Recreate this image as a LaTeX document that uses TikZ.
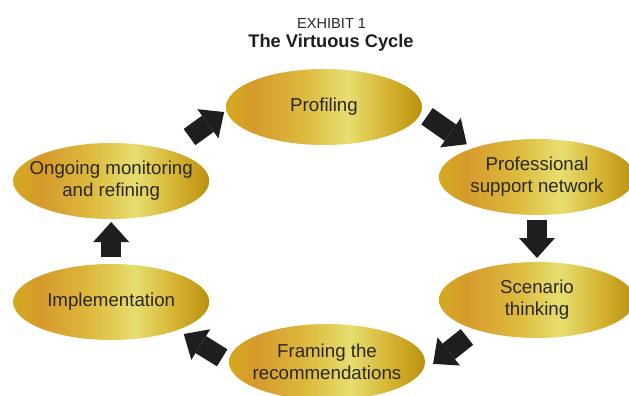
\documentclass[tikz,border=0pt]{standalone}
\usepackage{fontspec}
\setmainfont{Liberation Sans}
\usepackage{tikz}
\usetikzlibrary{shapes.geometric,arrows.meta}
\usepackage{xcolor}
\definecolor{GoldA}{RGB}{212,170,32}
\definecolor{GoldB}{RGB}{214,154,44}
\definecolor{GoldC}{RGB}{222,186,62}
\definecolor{GoldD}{RGB}{230,222,112}
\definecolor{GoldE}{RGB}{214,180,50}
\definecolor{GoldF}{RGB}{186,145,14}
\definecolor{Ink}{RGB}{43,40,36}
\definecolor{ArrowInk}{RGB}{30,30,30}
\pgfdeclarehorizontalshading{goldbar}{100bp}{color(0bp)=(GoldA); color(25bp)=(GoldA);
  color(32bp)=(GoldB); color(45bp)=(GoldC); color(56bp)=(GoldD); color(66bp)=(GoldE);
  color(75bp)=(GoldF); color(100bp)=(GoldF)}

\begin{document}
\begin{tikzpicture}[
  stage/.style={ellipse,shade,shading=goldbar,minimum width=4.9cm,minimum height=1.9cm,
                inner sep=0pt,outer sep=0pt,label={[lbl]center:#1}},
  lbl/.style={align=center,text=Ink,font=\fontsize{13.3}{15.6}\selectfont},
  blk/.style={draw=ArrowInk,line width=0.5cm,
              -{Triangle[width=0.9cm,length=0.5cm,line width=0pt]}},
]
\useasboundingbox (0,0) rectangle (15.725,-9.9);
\clip (0,0) rectangle (15.725,-9.9);
\node[anchor=base,text=Ink,font=\fontsize{10.4}{12}\selectfont] (exhibit) at (8.29,-0.7) {EXHIBIT 1};
\node[anchor=base,text=ArrowInk,font=\bfseries\fontsize{13}{15}\selectfont] (title) at (8.275,-1.175) {The Virtuous Cycle};
\node[stage={Profiling}] (prof) at (8.1,-2.675) {};
\node[stage={Professional\\support network}] (net) at (13.425,-4.425) {};
\node[stage={Scenario\\thinking}] (scen) at (13.425,-7.5) {};
\node[stage={Framing the\\recommendations}] (frame) at (8.175,-9.05) {};
\node[stage={Implementation}] (impl) at (2.78,-7.55) {};
\node[stage={Ongoing monitoring\\and refining}] (mon) at (2.78,-4.525) {};
\draw[blk,shorten <=0.585cm,shorten >=0.07cm] (mon.27) -- (prof.182);
\draw[blk,shorten <=0.18cm,shorten >=0.18cm] (prof.357) -- (net.156);
\draw[blk,shorten <=0.125cm,shorten >=0.1cm] (net.south) -- (scen.north);
\draw[blk,shorten <=0.29cm,shorten >=0.445cm] (scen.206) -- (frame.352);
\draw[blk,shorten <=0.2cm,shorten >=0.19cm] (frame.west) -- (impl.337);
\draw[blk,shorten <=0.175cm,shorten >=0.075cm] (impl.north) -- (mon.south);
\end{tikzpicture}
\end{document}
